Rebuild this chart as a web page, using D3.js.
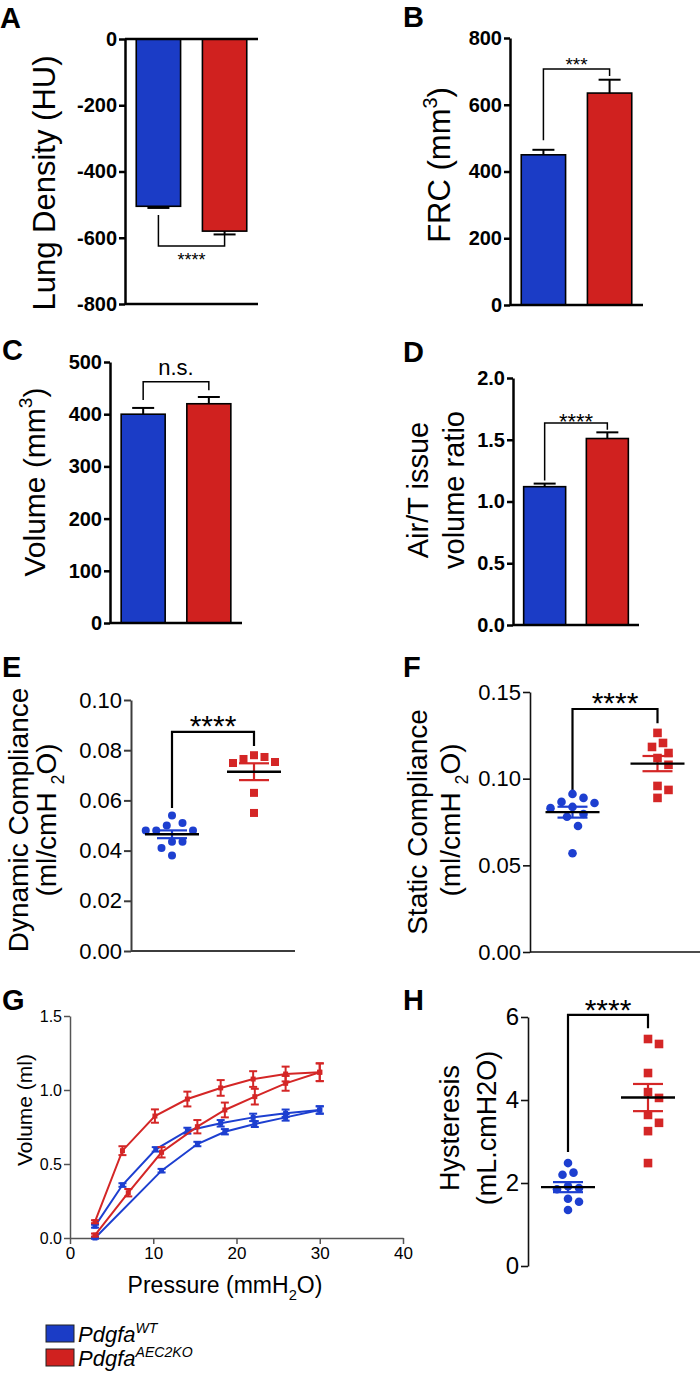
<!DOCTYPE html>
<html><head><meta charset="utf-8">
<script src="https://cdn.jsdelivr.net/npm/d3@7"></script>
<style>body{margin:0;background:#fff}svg{display:block}</style>
</head><body><svg id="c" width="700" height="1376"></svg>
<script>
// ---------------- DATA ----------------
const groups = ["WT", "AEC2KO"];
// A: lung density (HU)
const densityMean = [-505, -580];
const densityErr = [5, 10];
const densityTicks = [0, -200, -400, -600, -800];
// B: FRC (mm3)
const frcMean = [450, 635];
const frcErr = [15, 40];
const frcTicks = [0, 200, 400, 600, 800];
// C: volume (mm3)
const volMean = [400, 420];
const volErr = [12, 13];
const volTicks = [0, 100, 200, 300, 400, 500];
// D: air/tissue volume ratio
const ratioMean = [1.12, 1.51];
const ratioErr = [0.025, 0.05];
const ratioTicks = [0, 0.5, 1.0, 1.5, 2.0];
// E: dynamic compliance
const dynWT = [0.051, 0.054, 0.050, 0.048, 0.048, 0.048, 0.0435, 0.0435, 0.041, 0.038];
const dynKO = [0.0773, 0.0749, 0.0753, 0.0765, 0.078, 0.063, 0.055];
const dynTicks = [0, 0.02, 0.04, 0.06, 0.08, 0.10];
// F: static compliance
const statWT = [0.0866, 0.0912, 0.0889, 0.086, 0.0837, 0.083, 0.0796, 0.078, 0.0727, 0.057];
const statKO = [0.1264, 0.1206, 0.1183, 0.1148, 0.1119, 0.108, 0.0958, 0.0935, 0.0889];
const statTicks = [0, 0.05, 0.10, 0.15];
// H: hysteresis
const hystWT = [2.48, 2.25, 2.2, 1.92, 1.88, 1.85, 1.62, 1.55, 1.35];
const hystKO = [5.47, 5.35, 4.65, 4.19, 4.05, 3.64, 3.45, 3.25, 2.48];
const hystTicks = [0, 2, 4, 6];
// G: pressure-volume loops
const wtInflP = [3, 11, 15.3, 18.6, 22.2, 25.9, 30];
const wtInflV = [0.0, 0.455, 0.635, 0.718, 0.77, 0.815, 0.865];
const wtInflE = [0.005, 0.012, 0.015, 0.018, 0.02, 0.022, 0.025];
const wtDefP = [30, 25.9, 22, 18.1, 14.1, 10.3, 6.3, 3];
const wtDefV = [0.865, 0.843, 0.815, 0.775, 0.725, 0.599, 0.358, 0.08];
const wtDefE = [0.025, 0.025, 0.025, 0.022, 0.02, 0.015, 0.012, 0.01];
const koInflP = [3, 7, 11, 15.3, 18.6, 22.2, 25.9, 30];
const koInflV = [0.02, 0.306, 0.579, 0.752, 0.865, 0.955, 1.045, 1.12];
const koInflE = [0.01, 0.025, 0.035, 0.045, 0.05, 0.053, 0.05, 0.06];
const koDefP = [30, 25.9, 22, 18.1, 14.1, 10.2, 6.3, 3];
const koDefV = [1.12, 1.108, 1.074, 1.014, 0.939, 0.824, 0.59, 0.11];
const koDefE = [0.06, 0.05, 0.053, 0.053, 0.05, 0.045, 0.03, 0.01];
const pvXTicks = [0, 10, 20, 30, 40];
const pvYTicks = [0, 0.5, 1.0, 1.5];
// significance annotations [leftLeg, top, rightLeg] in data units
const sigA = [-531, -625, -592], sigB = [494, 707, 686], sigC = [427, 462, 446], sigD = [1.17, 1.635, 1.58];
const sigE = [0.057, 0.0873, 0.0817], sigF = [0.0935, 0.1402, 0.132], sigH = [2.75, 6.05, 5.73];

// ---------------- STYLE ----------------
const FONT = 'Arial, "Liberation Sans", Helvetica, sans-serif';
const BLUE = "#1b3cc6", RED = "#d0211f";
const PBLUE = "#1d3fd0", PRED = "#d42626";
const colorsBar = [BLUE, RED], colorsPt = [PBLUE, PRED];
const svg = d3.select("#c").attr("font-family", FONT);

function rich(t, parts, size) {
  let shift = 0;
  parts.forEach(p => {
    const [str, kind] = Array.isArray(p) ? p : [p, null];
    const target = kind === "sup" ? -0.42 * size : kind === "sub" ? 0.3 * size : 0;
    const ts = t.append("tspan").text(str).attr("dy", target - shift);
    if (kind) ts.attr("font-size", size * 0.64);
    shift = target;
  });
}
function yLabel(x, cy, parts, size) {
  const t = svg.append("text").attr("transform", `translate(${x},${cy}) rotate(-90)`)
    .attr("text-anchor", "middle").attr("font-size", size).attr("font-family", FONT).attr("fill", "#000");
  rich(t, parts, size);
}
function letter(s, x, y) {
  svg.append("text").attr("x", x).attr("y", y).text(s).attr("font-size", 29)
    .attr("font-weight", "bold").attr("font-family", FONT);
}
function styleAxis(g, color, w, size, weight) {
  g.select(".domain").attr("stroke", color).attr("stroke-width", w);
  g.selectAll(".tick line").attr("stroke", color).attr("stroke-width", w);
  g.selectAll(".tick text").attr("fill", "#000").attr("font-size", size)
    .attr("font-weight", weight).attr("font-family", FONT);
}
function bracket(x1, x2, y, sig, lineColor, w, label, size, weight, dy) {
  const yl = y(sig[0]), yt = y(sig[1]), yr = y(sig[2]);
  svg.append("path").attr("d", `M${x1},${yl}V${yt}H${x2}V${yr}`)
    .attr("fill", "none").attr("stroke", lineColor).attr("stroke-width", w);
  svg.append("text").attr("x", (x1 + x2) / 2).attr("y", yt + dy).attr("text-anchor", "middle")
    .attr("font-size", size).attr("font-weight", weight).text(label);
}

// ---------------- BAR PANELS ----------------
function barPanel(o) {
  const x = d3.scaleBand().domain(groups).range(o.xr).paddingInner(0.33).paddingOuter(0.17);
  const y = d3.scaleLinear().domain(o.yd).range(o.yr);
  const g = svg.append("g");
  g.selectAll("rect").data(o.means).join("rect")
    .attr("x", (d, i) => x(groups[i])).attr("width", x.bandwidth())
    .attr("y", d => Math.min(y(d), y(0))).attr("height", d => Math.abs(y(d) - y(0)))
    .attr("fill", (d, i) => colorsBar[i]).attr("stroke", "#000").attr("stroke-width", 1.6);
  o.means.forEach((m, i) => {
    const cx = x(groups[i]) + x.bandwidth() / 2;
    const e = m + Math.sign(m) * o.errs[i];
    g.append("line").attr("x1", cx).attr("x2", cx).attr("y1", y(m)).attr("y2", y(e)).attr("stroke", "#000").attr("stroke-width", 2);
    g.append("line").attr("x1", cx - 11).attr("x2", cx + 11).attr("y1", y(e)).attr("y2", y(e)).attr("stroke", "#000").attr("stroke-width", 2);
  });
  const ax = svg.append("g").attr("transform", `translate(${o.xr[0]},0)`)
    .call(d3.axisLeft(y).tickValues(o.ticks).tickSize(6).tickSizeOuter(0).tickPadding(2).tickFormat(o.fmt));
  styleAxis(ax, "#000", 2.5, 20, "bold");
  o.hlines.forEach(v => svg.append("line").attr("x1", o.xr[0]).attr("x2", o.xr[1])
    .attr("y1", y(v)).attr("y2", y(v)).attr("stroke", "#000").attr("stroke-width", 2.5));
  const c1 = x(groups[0]) + x.bandwidth() / 2, c2 = x(groups[1]) + x.bandwidth() / 2;
  bracket(c1, c2, y, o.sig, "#000", 1.5, o.label, o.lsize, o.lweight, o.ldy);
}
barPanel({ xr: [125, 258], yd: [0, -800], yr: [39, 304], ticks: densityTicks, fmt: d => String(d),
  means: densityMean, errs: densityErr, hlines: [0, -800], sig: sigA, label: "****", lsize: 18, lweight: "normal", ldy: 20 });
barPanel({ xr: [510, 643], yd: [0, 800], yr: [305, 38], ticks: frcTicks, fmt: d => String(d),
  means: frcMean, errs: frcErr, hlines: [0], sig: sigB, label: "***", lsize: 19, lweight: "normal", ldy: 2 });
barPanel({ xr: [110, 242], yd: [0, 500], yr: [623, 362], ticks: volTicks, fmt: d => String(d),
  means: volMean, errs: volErr, hlines: [0], sig: sigC, label: "n.s.", lsize: 22, lweight: "normal", ldy: -7 });
barPanel({ xr: [513, 639], yd: [0, 2], yr: [625, 378], ticks: ratioTicks, fmt: d3.format(".1f"),
  means: ratioMean, errs: ratioErr, hlines: [0], sig: sigD, label: "****", lsize: 22, lweight: "normal", ldy: 6 });

// ---------------- SCATTER PANELS ----------------
function swarm(vals, y, cx, minD) {
  const placed = [];
  const out = new Array(vals.length);
  const order = vals.map((v, i) => i).sort((a, b) => vals[b] - vals[a]);
  order.forEach(i => {
    const py = y(vals[i]);
    for (let k = 0; k < 60; k++) {
      const off = (k % 2 ? 1 : -1) * Math.ceil(k / 2) * minD * 0.5;
      const px = cx + off;
      if (!placed.some(p => Math.hypot(p[0] - px, p[1] - py) < minD)) { placed.push([px, py]); out[i] = [px, py]; break; }
    }
  });
  return out;
}
function scatterPanel(o) {
  const x = d3.scalePoint().domain(groups).range(o.xr).padding(0.5);
  const y = d3.scaleLinear().domain(o.yd).range(o.yr);
  const ax = svg.append("g").attr("transform", `translate(${o.xr[0]},0)`)
    .call(d3.axisLeft(y).tickValues(o.ticks).tickSize(7).tickSizeOuter(0).tickPadding(2).tickFormat(o.fmt));
  styleAxis(ax, o.axisColor, o.axisW, o.tsize, "normal");
  if (o.xaxis) svg.append("line").attr("x1", o.xr[0]).attr("x2", o.xr[1]).attr("y1", y(o.yd[0])).attr("y2", y(o.yd[0]))
    .attr("stroke", o.axisColor).attr("stroke-width", o.axisW);
  const c1 = x(groups[0]), c2 = x(groups[1]);
  bracket(c1, c2, y, o.sig, "#000", 2.2, "****", 30, "normal", o.ldy);
  [o.wt, o.ko].forEach((vals, gi) => {
    const cx = x(groups[gi]);
    const pts = swarm(vals, y, cx, o.minD);
    const g = svg.append("g").attr("fill", colorsPt[gi]);
    if (gi === 0) g.selectAll("circle").data(pts).join("circle").attr("cx", d => d[0]).attr("cy", d => d[1]).attr("r", o.r);
    else g.selectAll("rect").data(pts).join("rect").attr("x", d => d[0] - o.r).attr("y", d => d[1] - o.r).attr("width", 2 * o.r).attr("height", 2 * o.r);
    const m = d3.mean(vals), sem = d3.deviation(vals) / Math.sqrt(vals.length);
    const s = svg.append("g").attr("stroke", colorsPt[gi]).attr("stroke-width", 2.2);
    s.append("line").attr("x1", cx).attr("x2", cx).attr("y1", y(m - sem)).attr("y2", y(m + sem));
    [m - sem, m + sem].forEach(v => s.append("line").attr("x1", cx - 15).attr("x2", cx + 15).attr("y1", y(v)).attr("y2", y(v)));
    svg.append("line").attr("x1", cx - 27).attr("x2", cx + 27).attr("y1", y(m)).attr("y2", y(m)).attr("stroke", "#000").attr("stroke-width", 2.4);
  });
}
scatterPanel({ xr: [131, 295], yd: [0, 0.10], yr: [951, 700], ticks: dynTicks, fmt: d3.format(".2f"), axisColor: "#3c3c3c", axisW: 2,
  tsize: 22, xaxis: true, sig: sigE, ldy: 4, wt: dynWT, ko: dynKO, r: 4, minD: 10.5 });
scatterPanel({ xr: [530, 700], yd: [0, 0.15], yr: [952, 692], ticks: statTicks, fmt: d3.format(".2f"), axisColor: "#111", axisW: 1.6,
  tsize: 22, xaxis: true, sig: sigF, ldy: 4, wt: statWT, ko: statKO, r: 4.3, minD: 11 });
scatterPanel({ xr: [528, 688], yd: [0, 6], yr: [1266, 1017], ticks: hystTicks, fmt: d3.format("d"), axisColor: "#111", axisW: 1.6,
  tsize: 24, xaxis: false, sig: sigH, ldy: 5, wt: hystWT, ko: hystKO, r: 4.3, minD: 11 });

// ---------------- G: PV LOOPS ----------------
{
  const x = d3.scaleLinear().domain([0, 40]).range([70, 403]);
  const y = d3.scaleLinear().domain([0, 1.5]).range([1238, 1016]);
  const ay = svg.append("g").attr("transform", "translate(70,0)")
    .call(d3.axisLeft(y).tickValues(pvYTicks).tickSize(6).tickSizeOuter(0).tickPadding(2).tickFormat(d3.format(".1f")));
  styleAxis(ay, "#555", 1.5, 16, "normal");
  const axx = svg.append("g").attr("transform", "translate(0,1238)")
    .call(d3.axisBottom(x).tickValues(pvXTicks).tickSize(6).tickSizeOuter(0).tickPadding(3));
  styleAxis(axx, "#555", 1.5, 17, "normal");
  const series = [
    [wtInflP, wtInflV, wtInflE, PBLUE], [wtDefP, wtDefV, wtDefE, PBLUE],
    [koInflP, koInflV, koInflE, PRED], [koDefP, koDefV, koDefE, PRED]];
  const line = d3.line().x(d => x(d[0])).y(d => y(d[1]));
  series.forEach(([P, V, E, col]) => {
    const pts = P.map((p, i) => [p, V[i], E[i]]);
    svg.append("path").datum(pts).attr("d", line).attr("fill", "none").attr("stroke", col).attr("stroke-width", 2);
    const g = svg.append("g").attr("stroke", col).attr("stroke-width", 2);
    pts.forEach(d => {
      const px = x(d[0]);
      g.append("line").attr("x1", px).attr("x2", px).attr("y1", y(d[1] - d[2])).attr("y2", y(d[1] + d[2]));
      [d[1] - d[2], d[1] + d[2]].forEach(v => g.append("line").attr("x1", px - 4).attr("x2", px + 4).attr("y1", y(v)).attr("y2", y(v)));
    });
    svg.append("g").attr("fill", col).selectAll("rect").data(pts).join("rect")
      .attr("x", d => x(d[0]) - 2.5).attr("y", d => y(d[1]) - 2.5).attr("width", 5).attr("height", 5);
  });
  yLabel(32, 1110, ["Volume (ml)"], 21);
  const t = svg.append("text").attr("x", 225).attr("y", 1293).attr("text-anchor", "middle").attr("font-size", 23);
  rich(t, ["Pressure (mmH", ["2", "sub"], "O)"], 23);
}

// ---------------- LABELS ----------------
yLabel(55, 183, ["Lung Density (HU)"], 31);
yLabel(450, 165, ["FRC (mm", ["3", "sup"], ")"], 31);
yLabel(45, 482, ["Volume (mm", ["3", "sup"], ")"], 30);
yLabel(428, 490, ["Air/T issue"], 29);
yLabel(464, 490, ["volume ratio"], 29);
yLabel(28, 820, ["Dynamic Compliance"], 28);
yLabel(56, 820, ["(ml/cmH ", ["2", "sub"], "O)"], 28);
yLabel(427, 822, ["Static Compliance"], 28);
yLabel(460, 820, ["(ml/cmH ", ["2", "sub"], "O)"], 28);
yLabel(459, 1128, ["Hysteresis"], 27);
yLabel(496, 1128, ["(mL.cmH2O)"], 27);
[["A", 0, 28], ["B", 403, 27], ["C", 2, 360], ["D", 403, 362], ["E", 2, 677], ["F", 403, 677], ["G", 2, 1010], ["H", 403, 1010]]
  .forEach(d => letter(...d));

// ---------------- LEGEND ----------------
const legend = [["WT", BLUE], ["AEC2KO", RED]];
legend.forEach(([sup, col], i) => {
  const y0 = 1325 + i * 24;
  svg.append("rect").attr("x", 46).attr("y", y0).attr("width", 28).attr("height", 17).attr("fill", col).attr("stroke", "#222").attr("stroke-width", 1);
  const t = svg.append("text").attr("x", 78).attr("y", y0 + 17).attr("font-size", 22).attr("font-style", "italic");
  rich(t, ["Pdgfa", [sup, "sup"]], 22);
});
</script></body></html>
